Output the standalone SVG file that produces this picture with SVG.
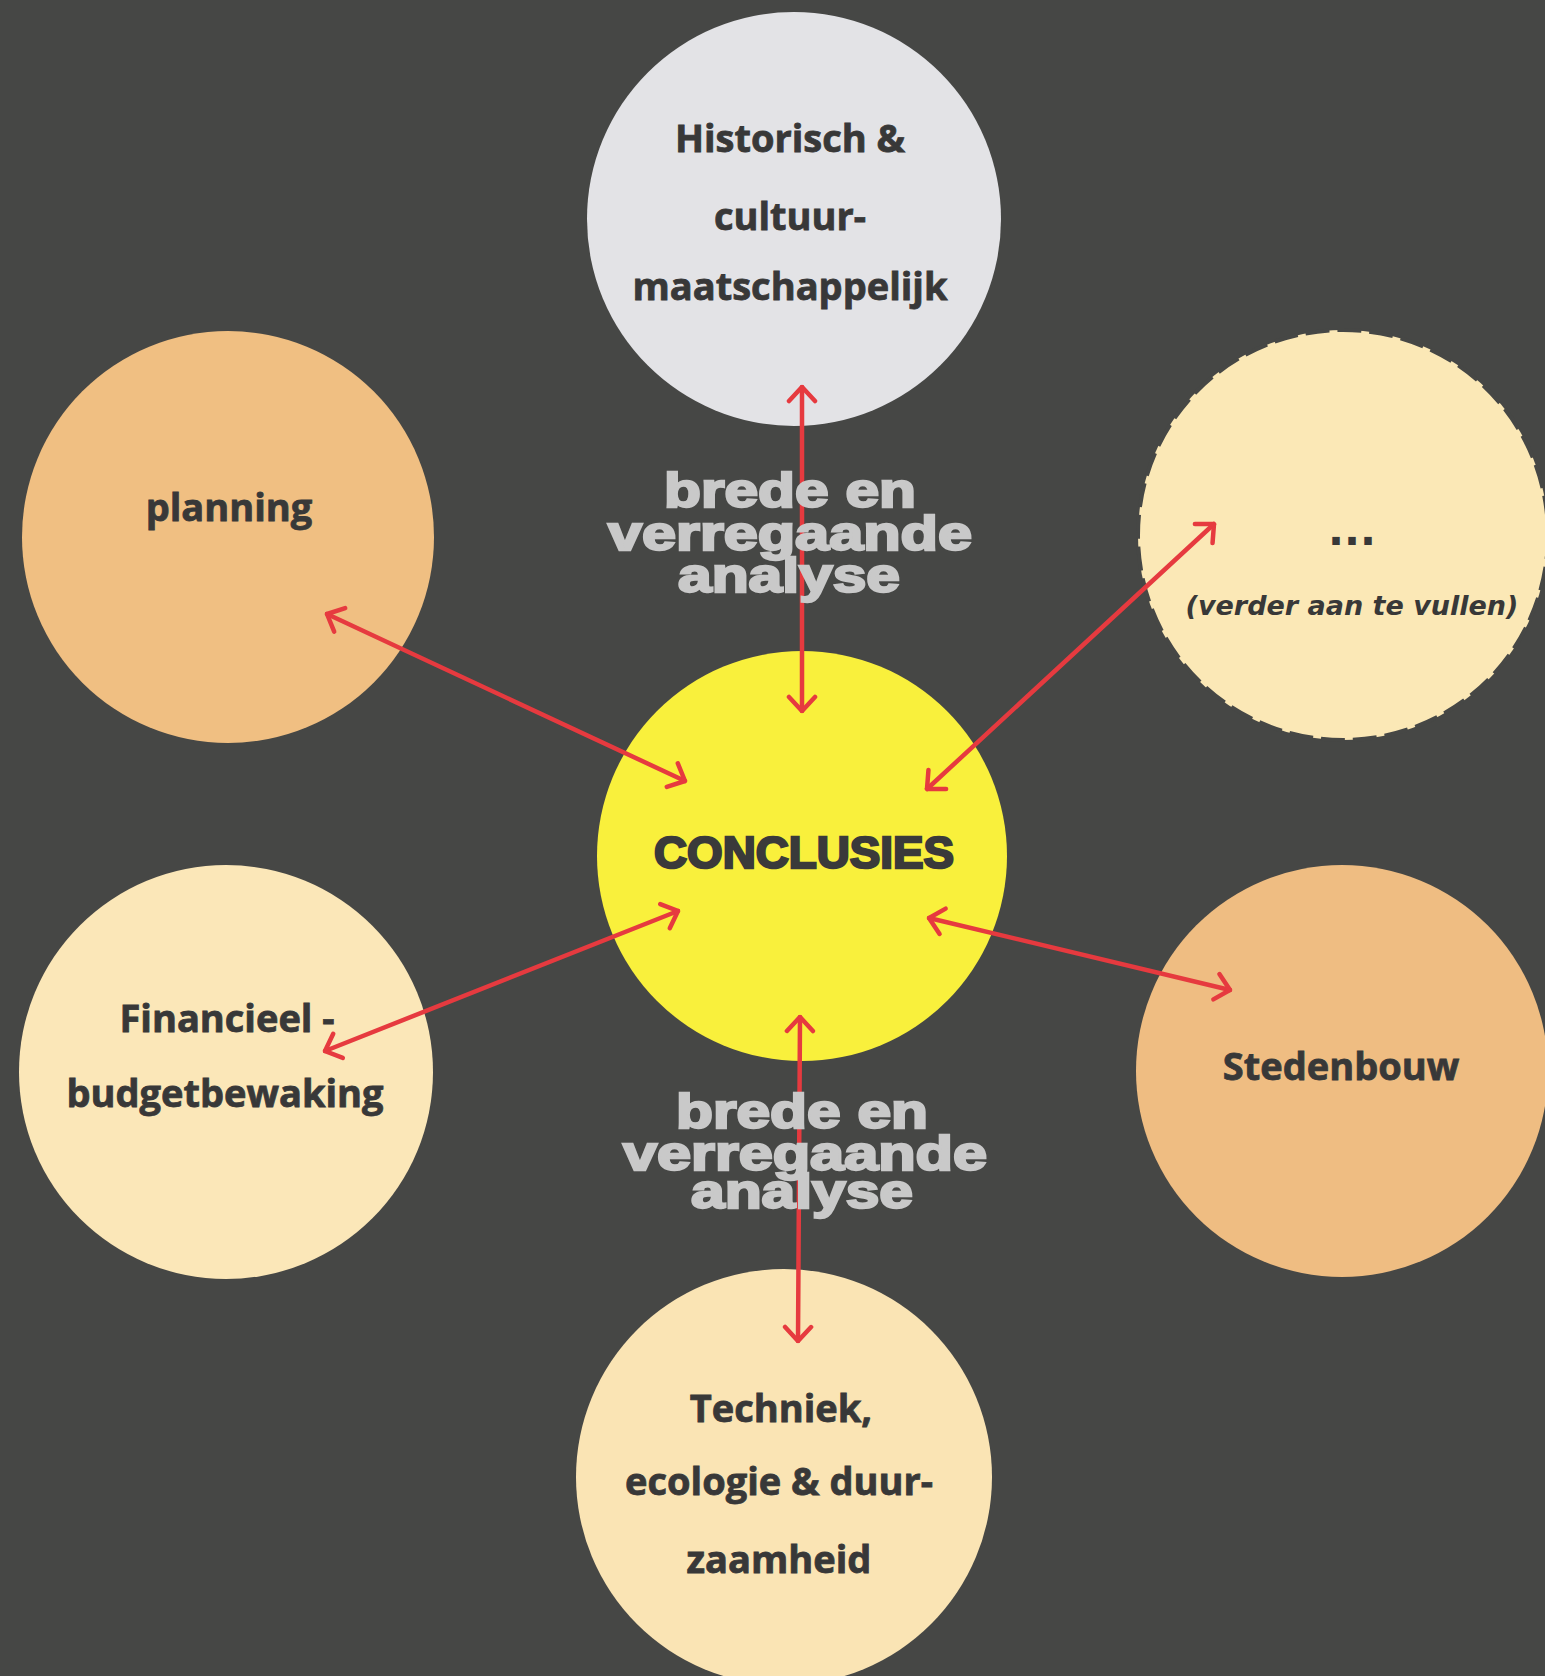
<svg xmlns="http://www.w3.org/2000/svg" width="1545" height="1676" viewBox="0 0 1545 1676">
<defs>
<style>
.lbl{font-family:"Open Sans","Noto Sans","Liberation Sans",sans-serif;font-weight:700;font-size:38px;fill:#383838;stroke:#383838;stroke-width:0.8;text-anchor:middle}
.big{font-family:"Liberation Sans",Arial,sans-serif;font-weight:900;font-size:49px;fill:#c9c9c9;stroke:#c9c9c9;stroke-width:2.4;text-anchor:middle}
.conn{stroke:#e63a3f;stroke-width:4.5;fill:none;stroke-linecap:round;marker-start:url(#ah);marker-end:url(#ah)}
</style>
<marker id="ah" viewBox="-18 -16 20 32" refX="0" refY="0" markerWidth="20" markerHeight="32" markerUnits="userSpaceOnUse" orient="auto-start-reverse">
<path d="M-14,-13 L0,0 L-14,13" fill="none" stroke="#e63a3f" stroke-width="4.5" stroke-linecap="round" stroke-linejoin="miter"/>
</marker>
</defs>
<rect x="0" y="0" width="1545" height="1676" fill="#464745"/>

<g id="node-historisch">
<circle cx="794" cy="219" r="207" fill="#e3e3e6"/>
<text class="lbl" x="790" y="152">Historisch &amp;</text>
<text class="lbl" x="790" y="230">cultuur-</text>
<text class="lbl" x="790" y="300">maatschappelijk</text>
</g>

<g id="node-planning">
<circle cx="228" cy="537" r="206" fill="#f0bf82"/>
<text class="lbl" x="229" y="521">planning</text>
</g>

<g id="node-verder">
<circle cx="1343" cy="535" r="205" fill="#fbe8b6" stroke="#464745" stroke-width="4" stroke-dasharray="24 8"/>
<text x="1352" y="545" font-family="'DejaVu Sans',Verdana,sans-serif" font-weight="700" font-size="42" fill="#383838" text-anchor="middle">...</text>
<text x="1352" y="615" font-family="'DejaVu Sans',Verdana,sans-serif" font-weight="700" font-style="italic" font-size="27" fill="#383838" text-anchor="middle">(verder aan te vullen)</text>
</g>

<g id="node-conclusies">
<circle cx="802" cy="856" r="205" fill="#f9f03c"/>
<text x="804" y="868" font-family="'Liberation Sans',Arial,sans-serif" font-weight="900" font-size="44" fill="#3a3a3a" stroke="#3a3a3a" stroke-width="2.4" text-anchor="middle" textLength="300" lengthAdjust="spacingAndGlyphs">CONCLUSIES</text>
</g>

<g id="node-financieel">
<circle cx="226" cy="1072" r="207" fill="#fbe7b8"/>
<text class="lbl" x="227" y="1032">Financieel -</text>
<text class="lbl" x="225" y="1107">budgetbewaking</text>
</g>

<g id="node-stedenbouw">
<circle cx="1342" cy="1071" r="206" fill="#efbd82"/>
<text class="lbl" x="1341" y="1080">Stedenbouw</text>
</g>

<g id="node-techniek">
<circle cx="784" cy="1477" r="208" fill="#fae4b4"/>
<text class="lbl" x="781" y="1422">Techniek,</text>
<text class="lbl" x="779" y="1495">ecologie &amp; duur-</text>
<text class="lbl" x="779" y="1573">zaamheid</text>
</g>

<g id="connectors">
<line class="conn" x1="802" y1="387" x2="802" y2="711"/>
<line class="conn" x1="327" y1="614" x2="685" y2="781"/>
<line class="conn" x1="1214" y1="524" x2="927" y2="789"/>
<line class="conn" x1="325" y1="1051" x2="678" y2="911"/>
<line class="conn" x1="1230" y1="990" x2="929" y2="918"/>
<line class="conn" x1="800" y1="1017" x2="798" y2="1341"/>
</g>

<g id="label-top">
<text class="big" x="790" y="507" textLength="252" lengthAdjust="spacingAndGlyphs">brede en</text>
<text class="big" x="790" y="550" textLength="364" lengthAdjust="spacingAndGlyphs">verregaande</text>
<text class="big" x="789" y="592" textLength="222" lengthAdjust="spacingAndGlyphs">analyse</text>
</g>
<g id="label-bottom">
<text class="big" x="802" y="1128" textLength="252" lengthAdjust="spacingAndGlyphs">brede en</text>
<text class="big" x="805" y="1170" textLength="364" lengthAdjust="spacingAndGlyphs">verregaande</text>
<text class="big" x="802" y="1208" textLength="222" lengthAdjust="spacingAndGlyphs">analyse</text>
</g>
</svg>
